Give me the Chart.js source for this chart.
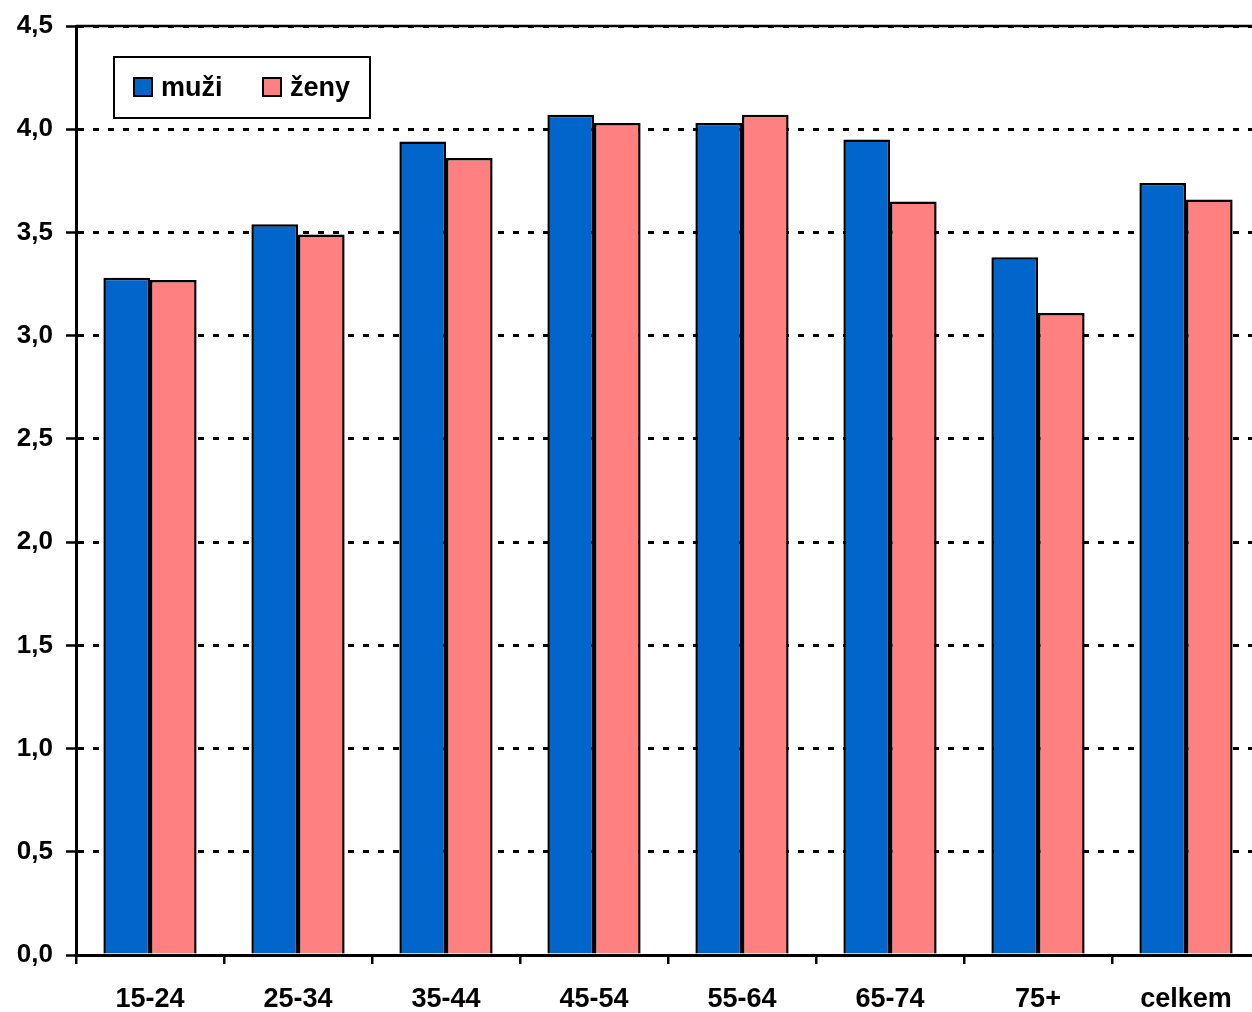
<!DOCTYPE html>
<html>
<head>
<meta charset="utf-8">
<script src="https://cdn.jsdelivr.net/npm/chart.js@4/dist/chart.umd.min.js"></script>
<style>
  html, body { margin: 0; padding: 0; background: #fff; overflow: hidden; }
  #wrap { width: 1252px; height: 1012px; overflow: hidden; }
</style>
</head>
<body>
<div id="wrap"><canvas id="c" width="1261" height="1012"></canvas></div>
<script>
// Age groups and average values by sex
const categories = ['15-24', '25-34', '35-44', '45-54', '55-64', '65-74', '75+', 'celkem'];
const muzi = [3.28, 3.54, 3.94, 4.07, 4.03, 3.95, 3.38, 3.74];
const zeny = [3.27, 3.49, 3.86, 4.03, 4.07, 3.65, 3.11, 3.66];
const seriesNames = ['muži', 'ženy'];
const seriesColors = ['#0066CC', '#FF8080'];
const yTicks = [0, 0.5, 1, 1.5, 2, 2.5, 3, 3.5, 4, 4.5];

const FONT = '"Liberation Sans", Arial, sans-serif';

// Boxed legend inside the plot area, plus the solid frame line at the top
const boxLegend = {
  id: 'boxLegend',
  afterDraw(chart) {
    const ctx = chart.ctx;
    const area = chart.chartArea;
    ctx.save();
    // solid top line
    ctx.strokeStyle = '#000';
    ctx.lineWidth = 2.5;
    ctx.beginPath();
    ctx.moveTo(area.left, area.top);
    ctx.lineTo(area.right, area.top);
    ctx.stroke();

    const x0 = area.left + 38, y0 = area.top + 31, w = 256, h = 61;
    ctx.fillStyle = '#fff';
    ctx.fillRect(x0, y0, w, h);
    ctx.lineWidth = 2;
    ctx.strokeRect(x0, y0, w, h);

    ctx.font = 'bold 27px ' + FONT;
    ctx.textBaseline = 'middle';
    const items = chart.data.datasets;
    const offsets = [20, 149];
    items.forEach((ds, i) => {
      const sx = x0 + offsets[i];
      const sy = y0 + 21;
      ctx.fillStyle = ds.backgroundColor;
      ctx.fillRect(sx, sy, 18, 18);
      ctx.strokeStyle = '#000';
      ctx.lineWidth = 2;
      ctx.strokeRect(sx, sy, 18, 18);
      ctx.fillStyle = '#000';
      ctx.fillText(ds.label, sx + 27, sy + 11);
    });
    ctx.restore();
  }
};

new Chart(document.getElementById('c'), {
  type: 'bar',
  data: {
    labels: categories,
    datasets: [
      { label: seriesNames[0], data: muzi, backgroundColor: seriesColors[0] },
      { label: seriesNames[1], data: zeny, backgroundColor: seriesColors[1] }
    ]
  },
  options: {
    responsive: false,
    animation: false,
    devicePixelRatio: 1,
    layout: { padding: { top: 26, right: 1, left: 0, bottom: 0 } },
    datasets: {
      bar: {
        borderColor: '#000',
        borderWidth: 2.5,
        categoryPercentage: 0.63,
        barPercentage: 1.0
      }
    },
    plugins: {
      legend: { display: false },
      tooltip: { enabled: false }
    },
    scales: {
      x: {
        grid: {
          offset: true,
          drawOnChartArea: false,
          color: '#000',
          lineWidth: 2.5,
          tickLength: 9,
          tickColor: '#000',
          tickWidth: 2.5
        },
        border: { display: true, color: '#000', width: 3 },
        ticks: {
          color: '#000',
          font: { family: FONT, size: 27, weight: 'bold' },
          padding: 19,
          maxRotation: 0,
          autoSkip: false
        },
        afterFit(scale) { scale.height = 57; }
      },
      y: {
        min: 0,
        max: 4.5,
        afterBuildTicks(scale) { scale.ticks = yTicks.map(v => ({ value: v })); },
        grid: {
          color: '#000',
          lineWidth: 3,
          tickLength: 10,
          tickColor: '#000',
          tickWidth: 2.5,
          tickBorderDash: []
        },
        border: { display: true, color: '#000', width: 3, dash: [6, 9] },
        ticks: {
          color: '#000',
          font: { family: FONT, size: 26, weight: 'bold', lineHeight: 1 },
          padding: 13,
          callback: v => Number(v).toFixed(1).replace('.', ',')
        },
        afterFit(scale) { scale.width = 76; }
      }
    }
  },
  plugins: [boxLegend]
});
</script>
</body>
</html>
